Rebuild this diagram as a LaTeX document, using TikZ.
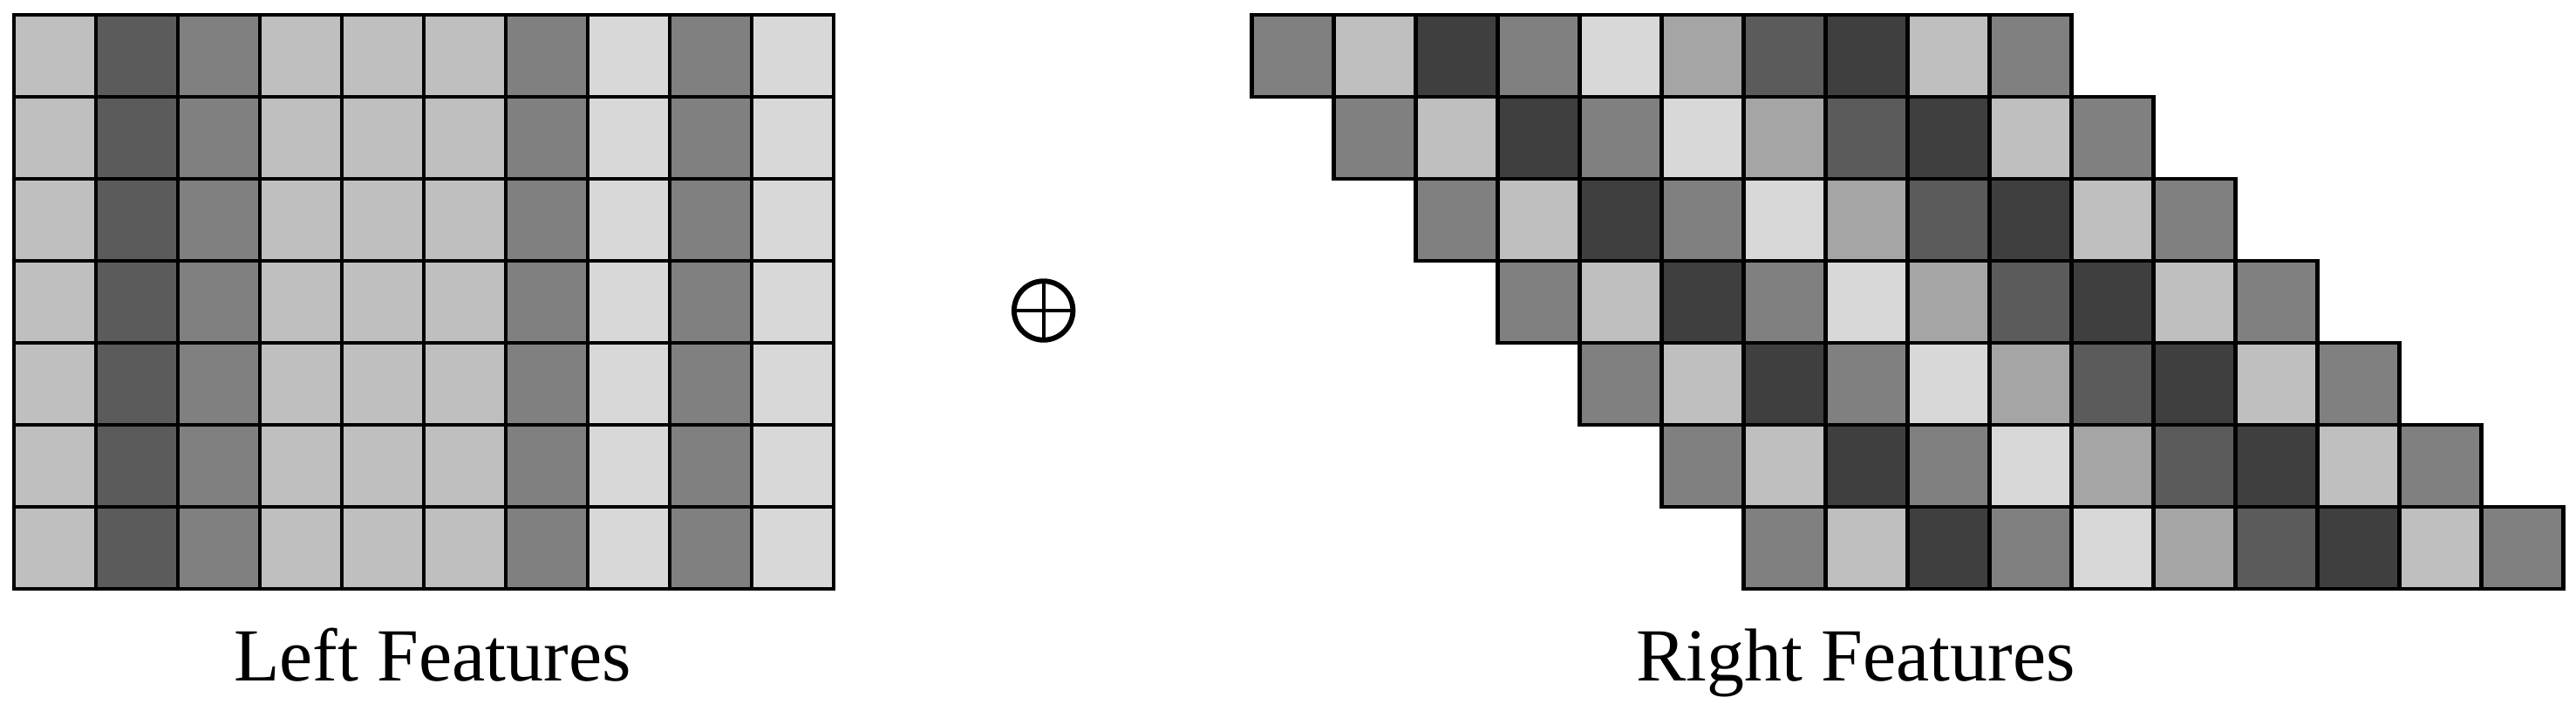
\documentclass[tikz,border=0pt]{standalone}
\usepackage{fontspec}
\setmainfont{Liberation Serif}

\definecolor{fpale}{HTML}{D8D8D8}
\definecolor{flight}{HTML}{BFBFBF}
\definecolor{fmid}{HTML}{A5A5A5}
\definecolor{fgrey}{HTML}{808080}
\definecolor{fdark}{HTML}{5B5B5B}
\definecolor{fdarker}{HTML}{3F3F3F}

\begin{document}
\begin{tikzpicture}[
    cell/.style={rectangle, draw, line width=1.3pt, minimum size=1cm, inner sep=0pt},
    caption/.style={anchor=base, font=\fontsize{26}{31}\selectfont}
]
\useasboundingbox (-0.17,0.181) rectangle (31.255,-8.479);

% Left features (same shade per column)
\foreach \shade [count=\c from 0] in {flight,fdark,fgrey,flight,flight,flight,fgrey,fpale,fgrey,fpale}
  \foreach \r in {0,...,6}
    \node[cell, fill=\shade] (left-\r-\c) at (\c+0.5,-\r-0.5) {};

% Right features (each row shifted by one cell)
\foreach \shade [count=\c from 0] in {fgrey,flight,fdarker,fgrey,fpale,fmid,fdark,fdarker,flight,fgrey}
  \foreach \r in {0,...,6}
    \node[cell, fill=\shade] (right-\r-\c) at (15.6+\r+\c,-\r-0.5) {};

% Concatenation sign
\node[circle, draw, line width=1.8pt, minimum size=0.718cm, inner sep=0pt, outer sep=0pt] (concat) at (12.56,-3.606) {};
\draw[line width=1.2pt] (concat.north) -- (concat.south);
\draw[line width=1.2pt] (concat.west) -- (concat.east);

% Captions
\node[caption] (leftlabel) at (5.106,-8.117) {Left Features};
\node[caption] (rightlabel) at (22.47,-8.117) {Right Features};

\end{tikzpicture}
\end{document}
